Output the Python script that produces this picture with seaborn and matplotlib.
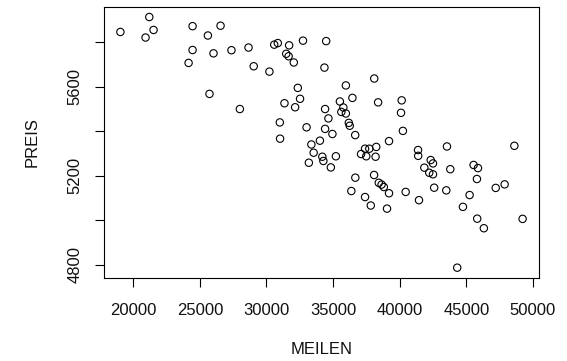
import matplotlib
matplotlib.use("Agg")
import matplotlib.pyplot as plt
import seaborn as sns
import pandas as pd

meilen = [19030, 21200, 21520, 20920, 24450, 26550, 25600, 24450, 26020, 27370,
          28650, 24150, 25720, 28000, 29040, 30220, 30580, 30850, 31700, 31480,
          31660, 32050, 32740, 34480, 34350, 32350, 32520, 31350, 32150, 34400,
          34650, 31000, 33010, 34400, 31020, 34010, 33370, 38090, 35960, 36450,
          35510, 38380, 35770, 35620, 35960, 36180, 36250, 34950, 36660, 39200,
          40150, 40100, 40240, 37400, 37720, 38240, 33540, 34190, 34270, 35210,
          33180, 34830, 37100, 37490, 38190, 36670, 38080, 36370, 38430, 38640,
          38810, 39200, 37400, 37830, 39050, 41380, 41390, 43550, 42330, 42500,
          41850, 42220, 42500, 43800, 42590, 43500, 40450, 41450, 45550, 45880,
          45800, 45250, 44750, 45820, 46320, 47210, 47880, 48610, 49230, 44320]

preis = [5845, 5912, 5854, 5820, 5871, 5873, 5829, 5764, 5749, 5763,
         5775, 5706, 5567, 5499, 5691, 5667, 5788, 5795, 5785, 5747,
         5736, 5708, 5806, 5804, 5685, 5594, 5545, 5525, 5507, 5499,
         5457, 5439, 5417, 5410, 5366, 5357, 5340, 5636, 5605, 5549,
         5533, 5529, 5506, 5486, 5479, 5437, 5424, 5387, 5382, 5355,
         5538, 5482, 5401, 5321, 5321, 5329, 5303, 5285, 5266, 5287,
         5258, 5237, 5297, 5287, 5285, 5191, 5203, 5131, 5168, 5160,
         5149, 5121, 5104, 5066, 5052, 5315, 5289, 5331, 5270, 5255,
         5236, 5213, 5206, 5229, 5146, 5134, 5127, 5090, 5248, 5234,
         5185, 5113, 5060, 5007, 4964, 5145, 5161, 5334, 5006, 4787]

x_ticks = [20000, 25000, 30000, 35000, 40000, 45000, 50000]
y_ticks = [4800, 5000, 5200, 5400, 5600, 5800]
y_tick_labels = ["4800", "", "5200", "", "5600", ""]

df = pd.DataFrame({"MEILEN": meilen, "PREIS": preis})

sns.set_style("white")
plt.rcParams["font.family"] = ["Liberation Sans", "DejaVu Sans"]

fig = plt.figure(figsize=(5.67, 3.61), dpi=100)
ax = fig.add_axes([104.3 / 567, (361 - 277.7) / 361, 434.4 / 567, 270.7 / 361])

sns.scatterplot(data=df, x="MEILEN", y="PREIS", ax=ax, marker="o", s=28,
                facecolors="none", edgecolor="black", linewidth=0.8)

xmin, xmax = min(meilen), max(meilen)
ymin, ymax = min(preis), max(preis)
dx = (xmax - xmin) * 0.04
dy = (ymax - ymin) * 0.04
ax.set_xlim(xmin - dx, xmax + dx)
ax.set_ylim(ymin - dy, ymax + dy)

ax.set_xticks(x_ticks)
ax.set_xticklabels([str(v) for v in x_ticks])
ax.set_yticks(y_ticks)
ax.set_yticklabels(y_tick_labels, rotation=90, va="center")

ax.tick_params(axis="both", direction="out", length=6.5, width=0.8,
               color="black", labelsize=12, labelcolor="#111111",
               bottom=True, left=True)
ax.tick_params(axis="x", pad=11.5)
ax.tick_params(axis="y", pad=9)

for sp in ax.spines.values():
    sp.set_visible(True)
    sp.set_color("black")
    sp.set_linewidth(0.8)

ax.set_xlabel("MEILEN", fontsize=12, color="#111111")
ax.set_ylabel("PREIS", fontsize=12, color="#111111")
ax.xaxis.label.set_va("center")
ax.yaxis.label.set_va("center")
ax.xaxis.set_label_coords(0.5, -(350 - 277.7) / 270.7)
ax.yaxis.set_label_coords(-(104.3 - 32.5) / 434.4, 0.5)

fig.savefig("out.png", dpi=100)
